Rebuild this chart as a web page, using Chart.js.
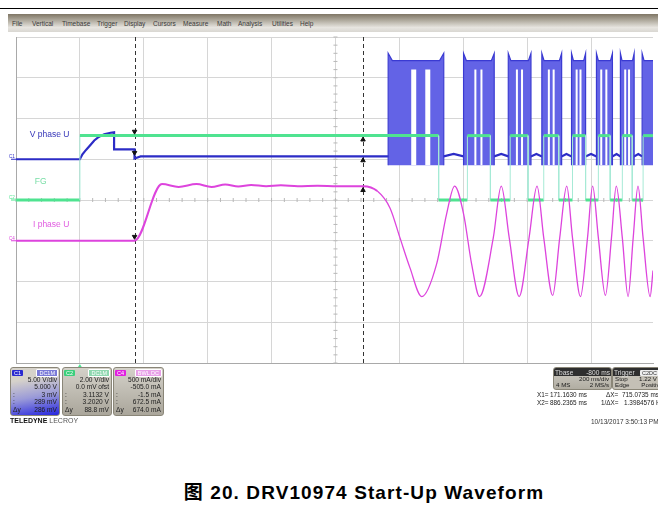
<!DOCTYPE html>
<html>
<head>
<meta charset="utf-8">
<script src="https://cdn.jsdelivr.net/npm/chart.js@4.4.1/dist/chart.umd.min.js"></script>
<style>
body { margin: 0; width: 658px; height: 514px; background: #fff; position: relative; overflow: hidden; font-family: "Liberation Sans", Arial, sans-serif; }
.abs { position: absolute; white-space: pre; }
#rule { left: 0; top: 8px; width: 658px; height: 1px; background: #000; }
#menu { left: 8px; top: 14px; width: 650px; height: 18px; background: linear-gradient(#7f7665, #b6b1a5 40%, #e7e5e0 75%, #d9d7d2); }
#menu span { position: absolute; top: 6px; font-size: 6.5px; color: #3a3a3a; }
#wrap { left: 0; top: 32px; width: 658px; height: 340px; }
.box { position: absolute; border: 1px solid #8a8678; border-radius: 3px; overflow: hidden; font-size: 6.6px; color: #202020; }
.hdr { height: 7px; display: flex; justify-content: space-between; align-items: center; padding: 1px 1px 0 1px; }
.tag { font-size: 5.5px; padding: 0 2px; line-height: 6px; border-radius: 1px; }
.row { display: flex; justify-content: space-between; line-height: 7.4px; padding: 0 2px 0 2px; }
.small .row { line-height: 6.4px; font-size: 6.2px; }
.info { font-size: 6.4px; color: #222; }
#caption { left: 0; width: 728px; top: 477px; text-align: center; font-size: 19px; letter-spacing: 1.1px; font-weight: bold; color: #000; font-family: "Liberation Sans", Arial, "Noto Sans CJK SC", sans-serif; }
</style>
</head>
<body>
<div class="abs" id="rule"></div>
<div class="abs" id="menu">
  <span style="left:4px">File</span><span style="left:24px">Vertical</span><span style="left:54px">Timebase</span>
  <span style="left:89px">Trigger</span><span style="left:116px">Display</span><span style="left:145px">Cursors</span>
  <span style="left:175px">Measure</span><span style="left:209px">Math</span><span style="left:230px">Analysis</span>
  <span style="left:264px">Utilities</span><span style="left:292px">Help</span>
</div>
<div class="abs" id="wrap"><canvas id="scope" width="658" height="340"></canvas></div>

<!-- channel boxes -->
<div class="box" style="left:10px;top:367px;width:48px;height:47px;background:linear-gradient(170deg,#d6d2ca 25%,#9a9ad8 60%,#2424e0 100%)">
  <div class="hdr"><span class="tag" style="background:#2a2ad0;color:#fff">C1</span><span class="tag" style="background:#7a7ad8;color:#fff;border:1px solid #fff">DC1M</span></div>
  <div class="row"><span></span><span>5.00 V/div</span></div>
  <div class="row"><span></span><span>5.000 V</span></div>
  <div class="row"><span>:</span><span>3 mV</span></div>
  <div class="row"><span>:</span><span>289 mV</span></div>
  <div class="row"><span>Δy</span><span>286 mV</span></div>
</div>
<div class="box" style="left:62px;top:367px;width:48px;height:47px;background:linear-gradient(#d4d1c9,#aaa69b)">
  <div class="hdr"><span class="tag" style="background:#3ccf7c;color:#fff">C2</span><span class="tag" style="background:#8fd8b0;color:#fff;border:1px solid #fff">DC1M</span></div>
  <div class="row"><span></span><span>2.00 V/div</span></div>
  <div class="row"><span></span><span>0.0 mV ofst</span></div>
  <div class="row"><span>:</span><span>3.1132 V</span></div>
  <div class="row"><span>:</span><span>3.2020 V</span></div>
  <div class="row"><span>Δy</span><span>88.8 mV</span></div>
</div>
<div class="box" style="left:113px;top:367px;width:49px;height:47px;background:linear-gradient(#d4d1c9,#aaa69b)">
  <div class="hdr"><span class="tag" style="background:#e020e0;color:#fff">C4</span><span class="tag" style="background:#e8a0e8;color:#fff;border:1px solid #fff">BWL DC</span></div>
  <div class="row"><span></span><span>500 mA/div</span></div>
  <div class="row"><span></span><span>-505.0 mA</span></div>
  <div class="row"><span>:</span><span>-1.5 mA</span></div>
  <div class="row"><span>:</span><span>672.5 mA</span></div>
  <div class="row"><span>Δy</span><span>674.0 mA</span></div>
</div>
<div class="abs" style="left:10px;top:417px;font-size:7px;color:#111"><b>TELEDYNE</b> <span style="color:#555">LECROY</span></div>

<!-- timebase / trigger -->
<div class="box small" style="left:553px;top:367px;width:57px;height:21px;background:linear-gradient(#cfccc4,#b1ada2)">
  <div class="hdr" style="background:#2e2e2e;color:#ddd"><span>Tbase</span><span>-800 ms</span></div>
  <div class="row"><span></span><span>200 ms/div</span></div>
  <div class="row"><span>4 MS</span><span>2 MS/s</span></div>
</div>
<div class="box small" style="left:612px;top:367px;width:56px;height:21px;background:#c4c0b6">
  <div class="hdr" style="background:#2e2e2e;color:#ddd"><span>Trigger</span><span class="tag" style="background:#eee;color:#333;margin-right:9px">C2DC</span></div>
  <div class="row"><span>Stop</span><span style="margin-right:10px">1.22 V</span></div>
  <div class="row"><span>Edge</span><span style="margin-right:4px">Positive</span></div>
</div>
<div class="abs info" style="left:537px;top:391px">X1=</div>
<div class="abs info" style="left:550px;top:391px">171.1630 ms</div>
<div class="abs info" style="left:606px;top:391px">ΔX=</div>
<div class="abs info" style="left:622px;top:391px">715.0735 ms</div>
<div class="abs info" style="left:537px;top:399px">X2=</div>
<div class="abs info" style="left:550px;top:399px">886.2365 ms</div>
<div class="abs info" style="left:601px;top:399px">1/ΔX=</div>
<div class="abs info" style="left:624px;top:399px">1.3984576 Hz</div>
<div class="abs" style="left:591px;top:418px;font-size:6.5px;color:#333">10/13/2017 3:50:13 PM</div>

<div class="abs" id="caption">图 20. DRV10974 Start-Up Waveform</div>

<script>
// grid: time in ms (200 ms/div), vertical in screen divisions
const xTicks = [-200, 0, 200, 400, 600, 800, 1000, 1200, 1400, 1600];
const yTicks = [-4, -3, -2, -1, 0, 1, 2, 3, 4];
const cursorTimes = [171.163, 886.2365];

// C1 - V phase U (base line)
const vPhaseT = [-200, 0, 8, 16, 24, 35, 45, 56, 67, 76, 86, 96, 107, 107, 171, 171, 190, 965,
                 1139, 1170, 1201, 1297, 1319, 1341, 1412, 1429, 1446, 1508, 1523, 1539,
                 1583, 1600, 1617, 1667, 1680, 1692, 1735, 1748, 1760];
const vPhaseV = [1.0, 1.0, 1.12, 1.2, 1.27, 1.37, 1.46, 1.53, 1.58, 1.61, 1.63, 1.65, 1.66, 1.24, 1.24, 1.02, 1.07, 1.07,
                 1.07, 1.13, 1.07, 1.07, 1.13, 1.07, 1.07, 1.13, 1.07, 1.07, 1.13, 1.07,
                 1.07, 1.13, 1.07, 1.07, 1.13, 1.07, 1.07, 1.13, 1.07];

// C1 - PWM bursts (outline of each burst, null = gap)
const burstT = [965, 965, 978, 1126, 1139, 1139, 1139,
                1201, 1201, 1210, 1288, 1297, 1297, 1297,
                1341, 1341, 1349, 1404, 1412, 1412, 1412,
                1446, 1446, 1453, 1501, 1508, 1508, 1508,
                1539, 1539, 1545, 1577, 1583, 1583, 1583,
                1617, 1617, 1623, 1661, 1667, 1667, 1667,
                1692, 1692, 1697, 1730, 1735, 1735, 1735,
                1760, 1760, 1766, 1800];
const burstV = [0.85, 3.6, 3.42, 3.42, 3.6, 0.85, null,
                0.85, 3.6, 3.42, 3.42, 3.6, 0.85, null,
                0.85, 3.6, 3.42, 3.42, 3.6, 0.85, null,
                0.85, 3.6, 3.42, 3.42, 3.6, 0.85, null,
                0.85, 3.6, 3.42, 3.42, 3.6, 0.85, null,
                0.85, 3.6, 3.42, 3.42, 3.6, 0.85, null,
                0.85, 3.6, 3.42, 3.42, 3.6, 0.85, null,
                0.85, 3.6, 3.42, 3.42];
const burstBottom = 0.85;
// off-gaps inside each burst
const slitT = [1045, 1089, 1238, 1257, 1368, 1384, 1468, 1483, 1555, 1567, 1632, 1648, 1707, 1719];
const slitTop = 3.2;

// C2 - FG
const fgT = [-200, 0, 0, 1123, 1123, 1213, 1213, 1285, 1285, 1347, 1347, 1403, 1403, 1452, 1452,
             1499, 1499, 1542, 1542, 1583, 1583, 1623, 1623, 1660, 1660, 1698, 1698, 1729, 1729, 1763, 1763, 1800];
const fgV = [0, 0, 1.58, 1.58, 0, 0, 1.58, 1.58, 0, 0, 1.58, 1.58, 0, 0, 1.58,
             1.58, 0, 0, 1.58, 1.58, 0, 0, 1.58, 1.58, 0, 0, 1.58, 1.58, 0, 0, 1.58, 1.58];

// C4 - I phase U
const iPhaseT = [-200, 171, 257, 309, 365, 412, 455, 496, 536, 583, 629, 682, 744, 806, 887,
                 931, 971, 1002, 1033, 1070, 1117, 1148, 1173, 1201, 1226, 1251, 1294, 1319, 1344,
                 1375, 1406, 1431, 1452, 1480, 1502, 1524, 1542, 1567, 1589, 1605, 1623, 1645, 1664,
                 1679, 1698, 1716, 1732, 1747, 1763, 1785, 1794];
const iPhaseV = [-1.0, -1.0, 0.39, 0.32, 0.39, 0.32, 0.38, 0.33, 0.37, 0.34, 0.36, 0.34, 0.35, 0.34, 0.34,
                 0.22, -0.2, -0.93, -1.66, -2.37, -1.56, -0.34, 0.34, -0.34, -1.56, -2.37, -0.93, 0.34, -0.93,
                 -2.37, -0.93, 0.34, -0.93, -2.34, -0.93, 0.34, -0.93, -2.37, -0.93, 0.34, -0.93, -2.34, -0.93,
                 0.34, -0.93, -2.37, -0.93, 0.34, -0.93, -2.37, -1.73];

// cursor markers on the traces
const markT = [171.163, 171.163, 171.163, 886.2365, 886.2365, 886.2365];
const markV = [1.68, 1.16, -0.9, 1.48, 0.97, 0.24];

// trace labels
const labelText = ['V phase U', 'FG', 'I phase U'];
const labelT = [-157, -141, -147];
const labelV = [1.61, 0.44, -0.61];
const groundText = ['C1', 'C2', 'C4'];
const groundV = [1.0, 0, -1.0];

const blue = '#2c2cc6', green = '#4fe390', magenta = '#dd44dd';
const labelColors = ['#3636b8', '#78dea6', '#e05ce0'];

function pts(t, v) {
  return t.map((x, i) => ({ x: x, y: v[i] }));
}
const slitPts = [];
slitT.forEach(t => { slitPts.push({ x: t, y: slitTop }, { x: t, y: burstBottom }, { x: t, y: null }); });
const slitW = [5, 5, 2, 2, 2, 2, 2, 2, 2, 2, 2, 2, 2, 2];

const scopePlugin = {
  id: 'scope',
  beforeDatasetsDraw(chart) {
    const { ctx, chartArea: a, scales: { x, y } } = chart;
    ctx.save();
    // minor ticks on the centre lines
    ctx.strokeStyle = '#b8b8b8';
    ctx.lineWidth = 1;
    const cy = y.getPixelForValue(0), cx = x.getPixelForValue(800);
    ctx.beginPath();
    for (let px = a.left; px < a.right; px += (x.getPixelForValue(0) - x.getPixelForValue(-200)) / 5) {
      ctx.moveTo(px, cy - 2); ctx.lineTo(px, cy + 2);
    }
    for (let py = a.top; py < a.bottom; py += (y.getPixelForValue(0) - y.getPixelForValue(1)) / 5) {
      ctx.moveTo(cx - 2, py); ctx.lineTo(cx + 2, py);
    }
    ctx.stroke();
    // cursors
    ctx.strokeStyle = '#333';
    ctx.setLineDash([4, 3]);
    cursorTimes.forEach(t => {
      const px = Math.round(x.getPixelForValue(t)) + 0.5;
      ctx.beginPath(); ctx.moveTo(px, a.top); ctx.lineTo(px, a.bottom); ctx.stroke();
    });
    ctx.restore();
  },
  afterDraw(chart) {
    const { ctx, chartArea: a, scales: { x, y } } = chart;
    ctx.save();
    ctx.font = '8.5px "Liberation Sans", Arial';
    ctx.textBaseline = 'middle';
    labelText.forEach((s, i) => {
      ctx.fillStyle = labelColors[i];
      ctx.fillText(s, x.getPixelForValue(labelT[i]), y.getPixelForValue(labelV[i]));
    });
    ctx.font = '4.5px "Liberation Sans", Arial';
    const gc = [blue, green, magenta];
    groundText.forEach((s, i) => {
      const py = y.getPixelForValue(groundV[i]);
      ctx.fillStyle = gc[i];
      ctx.fillText(s, a.left - 7, py - 2);
      ctx.fillRect(a.left - 5, py - 0.5, 5, 1);
    });
    // trigger position marker
    const tx = x.getPixelForValue(0);
    ctx.fillStyle = green;
    ctx.beginPath(); ctx.moveTo(tx, a.bottom + 1); ctx.lineTo(tx - 2.5, a.bottom + 5); ctx.lineTo(tx + 2.5, a.bottom + 5); ctx.fill();
    ctx.restore();
  }
};

new Chart(document.getElementById('scope'), {
  type: 'line',
  data: {
    datasets: [
      { data: pts(markT, markV), showLine: false, pointStyle: 'triangle', pointRadius: 2.6,
        pointRotation: [180, 180, 180, 0, 0, 0], pointBackgroundColor: '#111', pointBorderColor: '#111', order: 1 },
      { data: pts(iPhaseT, iPhaseV), borderColor: magenta, cubicInterpolationMode: 'monotone', order: 2,
        segment: { borderWidth: c => c.p0.parsed.x < 890 ? 2 : 1.3 } },
      { data: pts(fgT, fgV), borderColor: green, borderWidth: 3, order: 3,
        segment: {
          borderWidth: c => c.p0.parsed.x === c.p1.parsed.x ? 1 : 3,
          borderColor: c => c.p0.parsed.x === c.p1.parsed.x ? '#a6ead6' : green
        } },
      { data: slitPts, borderColor: '#fff', borderWidth: 2, spanGaps: false, order: 4,
        segment: { borderWidth: c => slitW[Math.floor(c.p0DataIndex / 3)] } },
      { data: pts(burstT, burstV), borderColor: '#3a3ad2', borderWidth: 1.2, backgroundColor: '#6363e6',
        fill: { value: burstBottom }, spanGaps: false, order: 5 },
      { data: pts(vPhaseT, vPhaseV), borderColor: blue, borderWidth: 2.2, order: 6 }
    ]
  },
  options: {
    responsive: false,
    animation: false,
    layout: { padding: { left: 16, top: 3, right: 0, bottom: 9 } },
    elements: { point: { radius: 0 }, line: { tension: 0 } },
    plugins: { legend: { display: false }, tooltip: { enabled: false } },
    scales: {
      x: {
        type: 'linear', min: -200, max: 1794,
        afterBuildTicks: s => { s.ticks = xTicks.map(v => ({ value: v })); },
        ticks: { display: false },
        grid: { color: '#d6d6d6', drawTicks: false },
        border: { color: '#a9a9a9' }
      },
      y: {
        type: 'linear', min: -4, max: 4,
        afterBuildTicks: s => { s.ticks = yTicks.map(v => ({ value: v })); },
        ticks: { display: false },
        grid: { color: '#d6d6d6', drawTicks: false },
        border: { color: '#a9a9a9' }
      }
    }
  },
  plugins: [scopePlugin]
});
</script>
</body>
</html>
